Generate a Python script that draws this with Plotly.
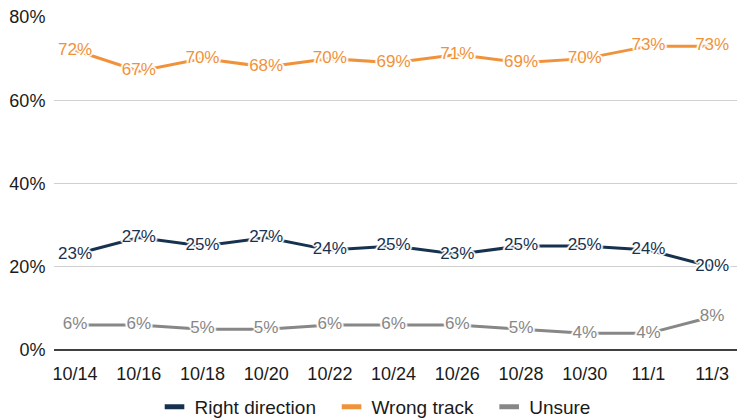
import plotly.graph_objects as go

dates = ["10/14", "10/16", "10/18", "10/20", "10/22", "10/24", "10/26", "10/28", "10/30", "11/1", "11/3"]
right_direction = [23, 27, 25, 27, 24, 25, 23, 25, 25, 24, 20]
wrong_track = [72, 67, 70, 68, 70, 69, 71, 69, 70, 73, 73]
unsure = [6, 6, 5, 5, 6, 6, 6, 5, 4, 4, 8]

series = [
    ("Right direction", right_direction, "#17324F"),
    ("Wrong track", wrong_track, "#F0923A"),
    ("Unsure", unsure, "#878787"),
]

FONT = "Liberation Sans"
xs = list(range(len(dates)))
halo = ("2px 0 1px white, -2px 0 1px white, 0 2px 1px white, 0 -2px 1px white, "
        "1px 1px 1px white, -1px -1px 1px white, 1px -1px 1px white, -1px 1px 1px white")

fig = go.Figure()
for name, vals, color in series:
    fig.add_trace(go.Scatter(
        x=xs, y=vals, name=name, mode="lines+text", showlegend=False,
        line=dict(color=color, width=3),
        text=[f"{v}%" for v in vals], textposition="middle center",
        textfont=dict(color=color, size=17, family=FONT, shadow=halo),
        cliponaxis=False,
    ))
for i, (name, vals, color) in enumerate(series):
    pad = "\u00a0\u00a0" if i < len(series) - 1 else ""
    fig.add_trace(go.Scatter(
        x=[None], y=[None], name=name + pad, mode="markers",
        marker=dict(symbol="line-ew-open", size=14, color=color,
                    line=dict(width=5, color=color)),
    ))

fig.update_layout(
    width=737, height=420, autosize=False,
    margin=dict(l=54, r=0, t=17, b=70, autoexpand=False),
    plot_bgcolor="white", paper_bgcolor="white",
    font=dict(family=FONT, size=18, color="#1a1a1a"),
    showlegend=True,
    legend=dict(orientation="h", x=0.47, xanchor="center", y=-0.171, yanchor="middle",
                font=dict(size=19, color="#1a1a1a"), itemwidth=30, traceorder="normal"),
    xaxis=dict(tickvals=xs, ticktext=dates, range=[-0.33, 10.39], showgrid=False,
               zeroline=False, showline=False, ticks="outside", ticklen=7,
               tickcolor="rgba(0,0,0,0)", tickfont=dict(size=18), automargin=False,
               ticklabeloverflow="allow"),
    yaxis=dict(range=[0, 80], tickvals=[0, 20, 40, 60, 80],
               ticktext=["0%", "20%", "40%", "60%", "80%"],
               showgrid=True, gridcolor="#D0D0D0", gridwidth=1,
               zeroline=True, zerolinecolor="#404040", zerolinewidth=1.5,
               showline=False, ticks="outside", ticklen=4, tickcolor="rgba(0,0,0,0)",
               tickfont=dict(size=18), automargin=False, ticklabeloverflow="allow"),
)

fig.write_html("out.html", config={"displayModeBar": False, "responsive": False},
               post_script="document.body.style.margin='0';")
